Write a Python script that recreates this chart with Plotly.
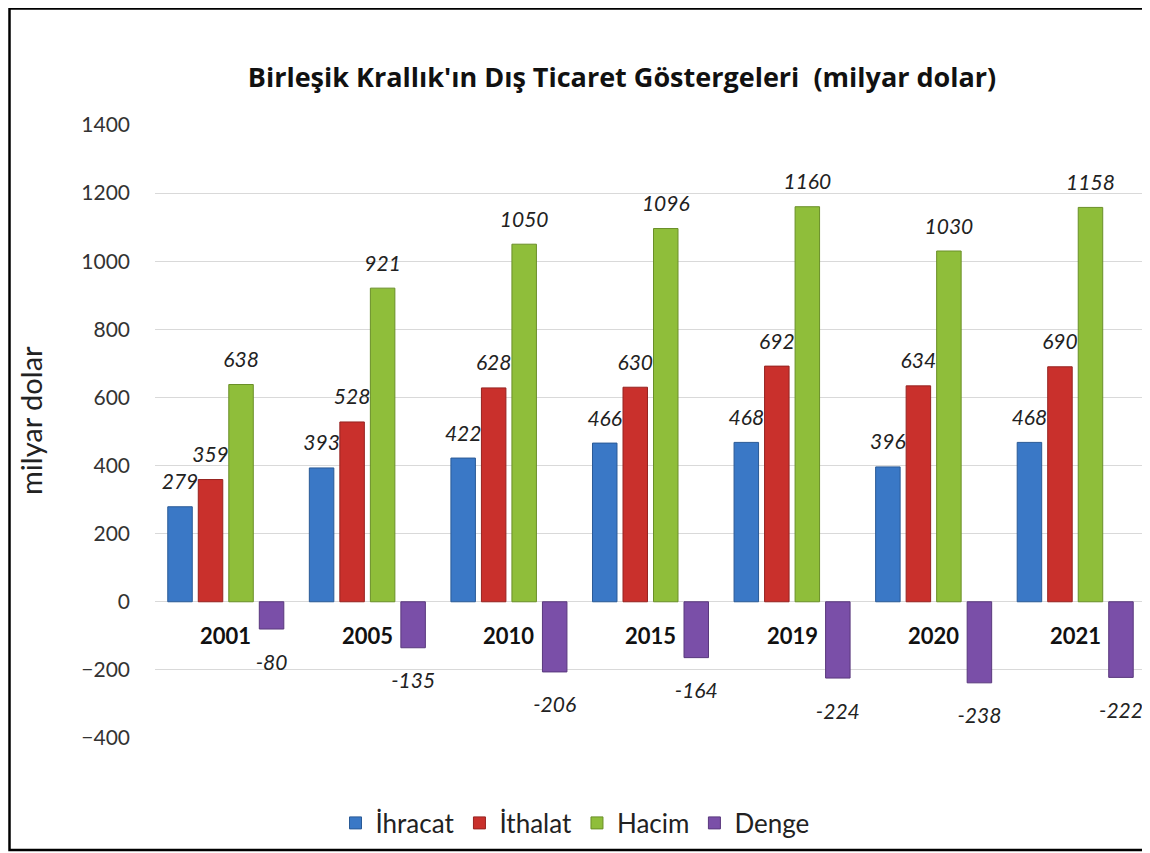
import plotly.graph_objects as go

years = ["2001", "2005", "2010", "2015", "2019", "2020", "2021"]
ihracat = [279, 393, 422, 466, 468, 396, 468]
ithalat = [359, 528, 628, 630, 692, 634, 690]
hacim = [638, 921, 1050, 1096, 1160, 1030, 1158]
denge = [-80, -135, -206, -164, -224, -238, -222]
y_ticks = [-400, -200, 0, 200, 400, 600, 800, 1000, 1200, 1400]

series = [
    ("İhracat", ihracat, "#3a78c6", "#2a5a96"),
    ("İthalat", ithalat, "#c9302c", "#962320"),
    ("Hacim", hacim, "#8fbe3a", "#6a8f28"),
    ("Denge", denge, "#7a4fa8", "#59387d"),
]

FONT = "Lato"
W, H = 1142, 845          # page body has an 8px margin
PL, PR, PT, PB = 147, 4, 117, 115
PW, PH = W - PL - PR, H - PT - PB
GAP = 0.138

fig = go.Figure()
for name, vals, color, edge in series:
    fig.add_trace(go.Bar(
        name=name, x=years, y=vals,
        marker=dict(color=color, line=dict(color=edge, width=1)),
        hoverinfo="x+y",
    ))

# value labels, grouped like the bars
for name, vals, color, edge in series:
    fig.add_trace(go.Scatter(
        x=years, y=vals, mode="markers+text", showlegend=False, hoverinfo="skip",
        text=[str(v) for v in vals],
        textposition=["top center" if v >= 0 else "bottom center" for v in vals],
        textfont=dict(family=FONT, size=21, color="#222222", style="italic"),
        marker=dict(color="rgba(0,0,0,0)", opacity=0, line=dict(width=0),
                    size=[18 if v >= 0 else 38 for v in vals]),
        cliponaxis=False,
    ))

for i, yr in enumerate(years):
    fig.add_annotation(x=i, y=0, xref="x", yref="y", text="<b>" + yr + "</b>",
                       showarrow=False, yshift=-34,
                       font=dict(family=FONT, size=22, color="#111111"))

# y-axis title
fig.add_annotation(x=(22 - PL) / PW, y=(PT + PH - 413) / PH, xref="paper", yref="paper",
                   text="milyar dolar", textangle=-90, showarrow=False,
                   xanchor="center", yanchor="middle",
                   font=dict(family=FONT, size=29, color="#222222"))

fig.add_shape(type="rect", xref="paper", yref="paper",
              x0=(1.5 - PL) / PW, x1=(1140 - PL) / PW,
              y0=(PT + PH - 842) / PH, y1=(PT + PH - 0.5) / PH,
              line=dict(color="black", width=2.5), layer="above")

fig.update_layout(
    width=W, height=H,
    margin=dict(l=PL, r=PR, t=PT, b=PB, autoexpand=False),
    paper_bgcolor="white", plot_bgcolor="white",
    barmode="group", bargap=GAP, bargroupgap=0.197,
    scattermode="group", scattergap=GAP,
    title=dict(text="<b>Birleşik Krallık'ın Dış Ticaret Göstergeleri  (milyar dolar)</b>",
               x=614 / W, xanchor="center", xref="container",
               y=1 - 70 / H, yanchor="middle", yref="container",
               font=dict(family="Open Sans", size=27, color="#111111")),
    font=dict(family=FONT, color="#333333"),
    xaxis=dict(type="category", range=[-0.5, len(years) - 0.5], showticklabels=False,
               showgrid=False, showline=False, ticks="", automargin=False),
    yaxis=dict(range=[-400, 1400], tickvals=y_ticks,
               showgrid=True, gridcolor="#d9d9d9", gridwidth=1,
               zeroline=True, zerolinecolor="#d9d9d9", zerolinewidth=1,
               tickfont=dict(family=FONT, size=21, color="#333333"),
               ticklabelstandoff=24, automargin=False),
    legend=dict(orientation="h", x=567 / W, xref="container", xanchor="center",
                y=(PT + PH - 815) / PH, yanchor="middle",
                font=dict(family=FONT, size=26, color="#222222"),
                traceorder="normal"),
    showlegend=True,
)

fig.write_html("out.html")
